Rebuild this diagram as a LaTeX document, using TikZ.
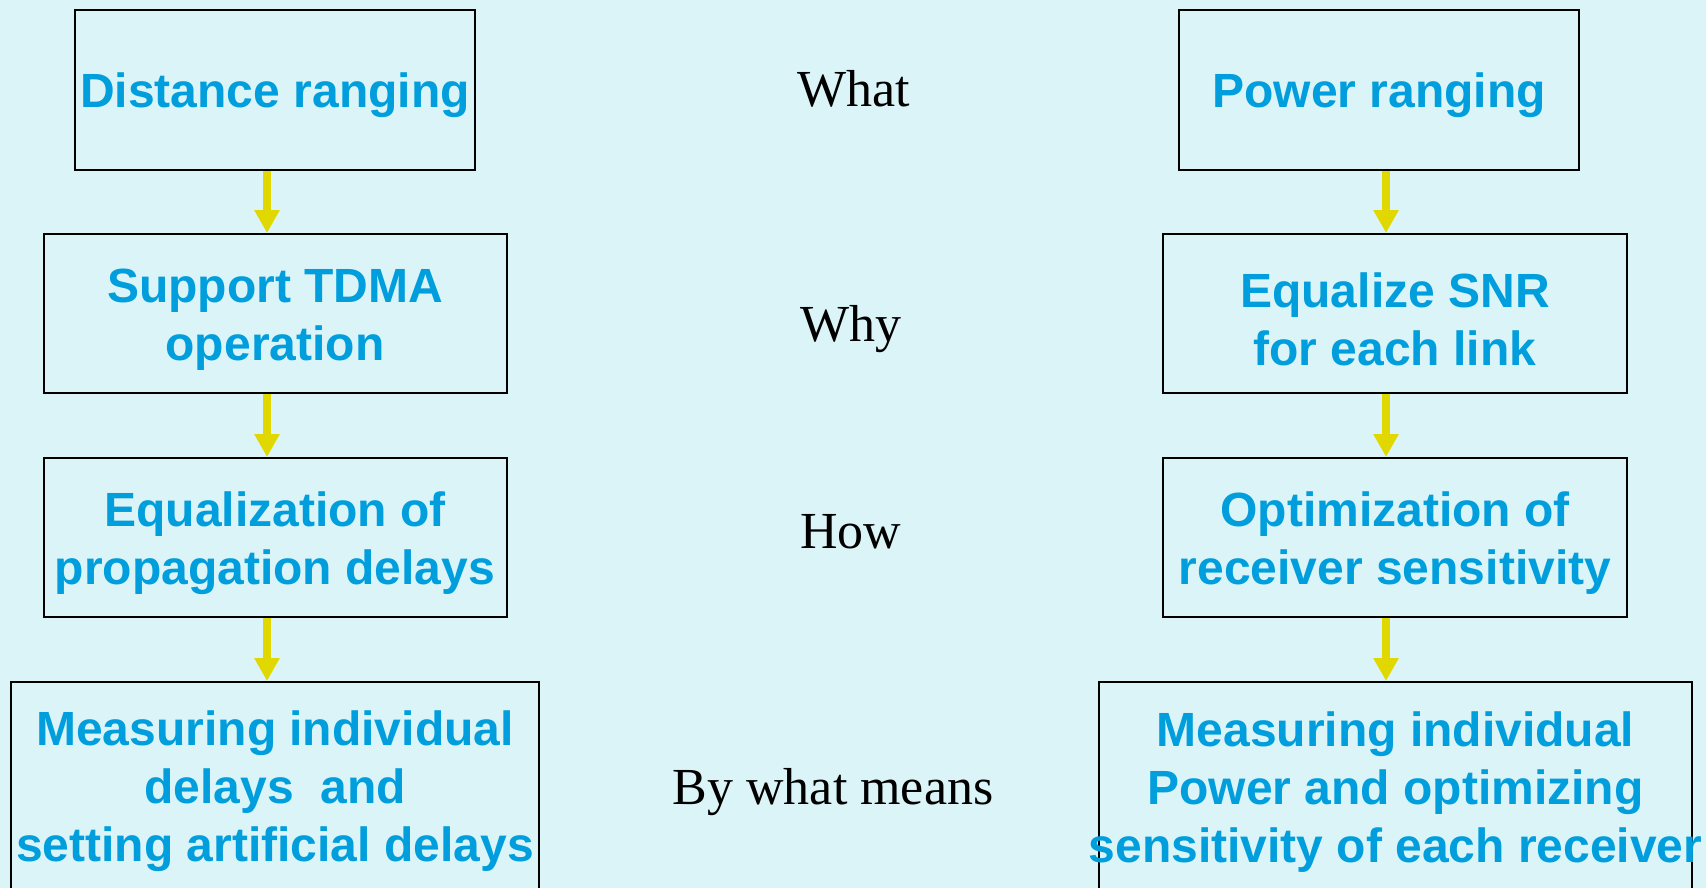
\documentclass[tikz,border=0pt]{standalone}
\usepackage{fontspec}
\setmainfont{Liberation Serif}
\setsansfont{Liberation Sans}
\usepackage{tikz}
\usetikzlibrary{arrows.meta,positioning}

\definecolor{bgcyan}{RGB}{218,244,247}
\definecolor{txtblue}{RGB}{0,158,220}
\definecolor{arryellow}{RGB}{224,216,0}
\newcommand\padtop[1][46pt]{\rule{0pt}{#1}}

\begin{document}
\begin{tikzpicture}[x=1pt,y=-1pt,
  box/.style={draw,line width=2pt,text=txtblue,align=center,inner sep=0pt,
    font=\sffamily\bfseries\fontsize{48}{58}\selectfont},
  lbl/.style={anchor=base,font=\rmfamily\fontsize{52}{60}\selectfont},
  flow/.style={arryellow,line width=8pt,-{Triangle[width=24pt,length=23pt]}}]
  \useasboundingbox (0,0) rectangle (1706,888);
  \clip (0,0) rectangle (1706,888);
  \fill[bgcyan] (0,0) rectangle (1706,888);
  % left column
  \node[box,minimum width=400pt,minimum height=160pt] (dist) at (275,90) {\padtop[45pt]Distance ranging};
  \node[box,minimum width=463pt,minimum height=159pt] (tdma) at (275,313.5) {\padtop Support TDMA\\operation};
  \node[box,minimum width=463pt,minimum height=159pt] (equ) at (275,537.5) {\padtop Equalization of\\propagation delays};
  \node[box,minimum width=528pt,minimum height=210pt] (meas) at (275,787) {\padtop[44pt]Measuring individual\\delays~~and\\setting artificial delays};
  % right column
  \node[box,minimum width=400pt,minimum height=160pt] (pow) at (1379,90) {\padtop[45pt]Power ranging};
  \node[box,minimum width=464pt,minimum height=159pt] (snr) at (1395,313.5) {\padtop Equalize SNR\\for each link};
  \node[box,minimum width=464pt,minimum height=159pt] (opt) at (1395,537.5) {\padtop Optimization of\\receiver sensitivity};
  \node[box,minimum width=593pt,minimum height=210pt] (mpow) at (1395.5,787) {\padtop[44pt]Measuring individual\\Power and optimizing\\\makebox[560pt]{sensitivity of each receiver}};
  % middle labels
  \node[lbl] (what) at (854,107) {What};
  \node[lbl] (why) at (851,341) {Why};
  \node[lbl] (how) at (851,548) {How};
  \node[lbl] (means) at (833,804) {By what means};
  % arrows
  \coordinate (lx) at (267,0);
  \coordinate (rx) at (1386,0);
  \draw[flow] (dist.south -| lx) -- (tdma.north -| lx);
  \draw[flow] (tdma.south -| lx) -- (equ.north -| lx);
  \draw[flow] (equ.south -| lx) -- (meas.north -| lx);
  \draw[flow] (pow.south -| rx) -- (snr.north -| rx);
  \draw[flow] (snr.south -| rx) -- (opt.north -| rx);
  \draw[flow] (opt.south -| rx) -- (mpow.north -| rx);
\end{tikzpicture}
\end{document}
